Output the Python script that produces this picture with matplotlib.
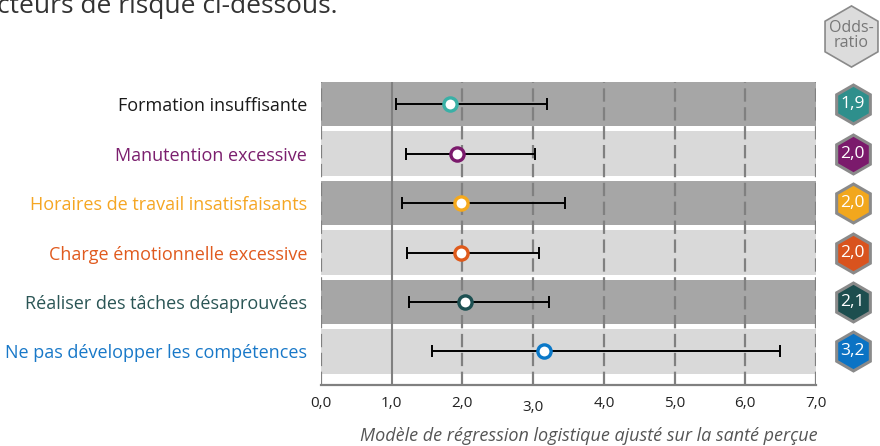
import matplotlib
matplotlib.use("Agg")
import matplotlib.pyplot as plt
import matplotlib.transforms as mtransforms

plt.rcParams['font.family'] = ['Open Sans', 'DejaVu Sans']

categories = ["Formation insuffisante", "Manutention excessive",
              "Horaires de travail insatisfaisants", "Charge émotionnelle excessive",
              "Réaliser des tâches désaprouvées", "Ne pas développer les compétences"]
odds = [1.82, 1.92, 1.98, 1.98, 2.03, 3.15]
ci_low = [1.06, 1.20, 1.15, 1.21, 1.25, 1.57]
ci_high = [3.20, 3.03, 3.45, 3.08, 3.22, 6.49]
badge_labels = ["1,9", "2,0", "2,0", "2,0", "2,1", "3,2"]
xticks = [0, 1, 2, 3, 4, 5, 6, 7]
xticklabels = ["0,0", "1,0", "2,0", "3,0", "4,0", "5,0", "6,0", "7,0"]

label_colors = ["#1a1a1a", "#7b1f6e", "#f5a623", "#e05a1e", "#2a5555", "#1878c8"]
marker_colors = ["#3ab0a6", "#7b1a6c", "#f5a91d", "#df5a1b", "#1d5052", "#0a78c8"]
badge_colors = ["#2e8f8c", "#7b1a6c", "#f2a71d", "#d9531e", "#1d4e4f", "#0b73c4"]
band_colors = ["#a6a6a6", "#d9d9d9"]
grid_color = "#808080"

W, H = 880, 446
fig = plt.figure(figsize=(W / 100, H / 100), dpi=100)
ax = fig.add_axes([321 / W, 1 - 385 / H, (816 - 321) / W, (385 - 82) / H])
n = len(categories)
ax.set_xlim(0, 7)
ax.set_ylim(n - 1 + 0.677, -0.445)

# bands
for i in range(n):
    ax.axhspan(i - 0.445, i + 0.445, xmin=0, xmax=1, color=band_colors[i % 2], lw=0, zorder=0)

# vertical gridlines
for x in xticks:
    if x == 1:
        ax.axvline(x, color=grid_color, lw=1.5, zorder=1)
    else:
        ax.axvline(x, color=grid_color, lw=1.6, ls=(0, (6, 2.5)), zorder=1)

# error bars and markers
for i in range(n):
    ax.errorbar(odds[i], i, xerr=[[odds[i] - ci_low[i]], [ci_high[i] - odds[i]]],
                fmt='none', ecolor='black', elinewidth=1.4, capsize=4.3, capthick=1.4, zorder=3)
    ax.plot(odds[i], i, 'o', ms=9.5, mfc='white', mec=marker_colors[i], mew=2.4, zorder=4)

# badges
for i in range(n):
    ax.plot(7.52, i, marker='h', ms=28, mfc=badge_colors[i], mec='#8a8a8a', mew=2.2,
            clip_on=False, zorder=5)
    ax.text(7.52, i, badge_labels[i], color='white', fontsize=12.5, ha='center', va='center',
            clip_on=False, zorder=6)
ax.plot(7.50, -1.38, marker='h', ms=44, mfc='#dcdcdc', mec='#8a8a8a', mew=1.2,
        clip_on=False, zorder=5)
ax.text(7.50, -1.38, "Odds-\nratio", color='#777777', fontsize=11.5, ha='center', va='center',
        linespacing=0.95, clip_on=False, zorder=6)

# axes styling
for s in ['top', 'right', 'left']:
    ax.spines[s].set_visible(False)
ax.spines['bottom'].set_color(grid_color)
ax.spines['bottom'].set_linewidth(1.6)
ax.set_xticks(xticks)
ax.set_xticklabels(xticklabels, fontsize=11, color='#222222')
ax.tick_params(axis='x', length=0, pad=8)
ax.set_yticks(range(n))
ax.set_yticklabels(categories, fontsize=13)
ax.tick_params(axis='y', length=0, pad=10)
for lbl, c in zip(ax.get_yticklabels(), label_colors):
    lbl.set_color(c)
# quirk: 3,0 label slightly lower
lbl3 = ax.get_xticklabels()[3]
lbl3.set_transform(lbl3.get_transform() + mtransforms.ScaledTranslation(0, -4 / 100, fig.dpi_scale_trans))

fig.text(-3 / W, 1 - 13 / H, "cteurs de risque ci-dessous.", fontsize=19, color='#333333',
         ha='left', va='baseline')
fig.text(818 / W, 1 - 436 / H, "Modèle de régression logistique ajusté sur la santé perçue",
         fontsize=13, style='italic', color='#555555', ha='right', va='center')

fig.savefig("out.png", dpi=100)
